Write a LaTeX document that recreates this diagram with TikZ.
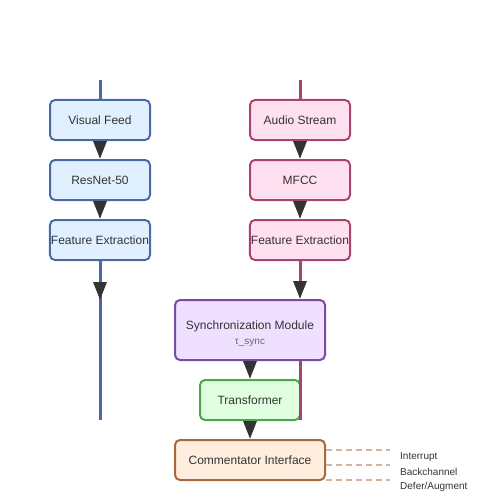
\documentclass[tikz,border=0pt]{standalone}
\usepackage{fontspec}
\setmainfont{Liberation Sans}
\usetikzlibrary{positioning, arrows.meta}

\definecolor{visline}{HTML}{4A6AA5}
\definecolor{visfill}{HTML}{E0F0FF}
\definecolor{audline}{HTML}{A8456E}
\definecolor{audfill}{HTML}{FFE0F0}
\definecolor{synline}{HTML}{7B4BAA}
\definecolor{synfill}{HTML}{F0E0FF}
\definecolor{trline}{HTML}{4AA84A}
\definecolor{trfill}{HTML}{E0FFE0}
\definecolor{ciline}{HTML}{A8683E}
\definecolor{cifill}{HTML}{FFEEDD}
\definecolor{dashcol}{HTML}{D4B4A0}
\definecolor{tipgray}{HTML}{333333}
\definecolor{txtgray}{HTML}{333333}
\definecolor{subgray}{HTML}{666666}

\begin{document}
\begin{tikzpicture}[x=1pt, y=-1pt,
		box/.style={draw, rounded corners=5pt, line width=2pt, minimum width=100pt, minimum height=40pt,
			inner sep=1pt, text=txtgray, font=\fontsize{12}{14}\selectfont},
		arr/.style={-{Triangle[length=18pt, width=13pt, color=tipgray]}},
		flow/.style={line width=3pt},
		opt/.style={dashcol, line width=1.5pt, dash pattern=on 6pt off 4pt},
		optlabel/.style={anchor=west, inner sep=0pt, text=txtgray, font=\fontsize{10}{12}\selectfont}]
		\useasboundingbox (0,0) rectangle (500,500);

		% Visual branch
		\node[box, draw=visline, fill=visfill] (vf) at (100,120) {Visual Feed};
		\node[box, draw=visline, fill=visfill] (rn) at (100,180) {ResNet-50};
		\node[box, draw=visline, fill=visfill] (fv) at (100,240) {Feature Extraction};
		\coordinate (vtop) at (100,80);
		\coordinate (vtip) at (100,300);
		\coordinate (vend) at (100,420);

		% Audio branch
		\node[box, draw=audline, fill=audfill] (as) at (300,120) {Audio Stream};
		\node[box, draw=audline, fill=audfill] (mf) at (300,180) {MFCC};
		\node[box, draw=audline, fill=audfill] (fa) at (300,240) {Feature Extraction};
		\coordinate (atop) at (300,80);
		\coordinate (aend) at (300,420);

		% Fusion and output
		\node[box, draw=synline, fill=synfill, minimum width=150pt, minimum height=60pt, align=center] (sync) at (250,330)
			{\rule{0pt}{17pt}Synchronization Module\\[1pt]{\fontsize{10}{12}\selectfont\color{subgray}τ\_sync}};
		\node[box, draw=trline, fill=trfill] (tr) at (250,400) {Transformer};
		\node[box, draw=ciline, fill=cifill, minimum width=150pt] (ci) at (250,460) {Commentator Interface};

		% Visual connectors
		\draw[flow, visline] (vtop) -- (vf);
		\draw[flow, visline, arr] (vf) -- (rn);
		\draw[flow, visline, arr] (rn) -- (fv);
		\draw[flow, visline] (fv) -- (vend);
		\draw[flow, visline, arr] (fv) -- (vtip);

		% Audio connectors
		\draw[flow, audline] (atop) -- (as);
		\draw[flow, audline, arr] (as) -- (mf);
		\draw[flow, audline, arr] (mf) -- (fa);
		\draw[flow, audline, arr] (fa.south) -- (fa.south |- sync.north);
		\draw[flow, audline] (sync.south -| aend) -- (aend);

		% Fusion connectors
		\draw[flow, trline, arr] (sync) -- (tr);
		\draw[flow, ciline, arr] (tr) -- (ci);

		% Interaction options
		\coordinate (d1) at (390,450);
		\coordinate (d2) at (390,465);
		\coordinate (d3) at (390,480);
		\draw[opt] (ci.east |- d1) -- (d1);
		\draw[opt] (ci.east |- d2) -- (d2);
		\draw[opt] (ci.east |- d3) -- (d3);
		\node[optlabel] (o1) at (400,457) {Interrupt};
		\node[optlabel] (o2) at (400,472) {Backchannel};
		\node[optlabel] (o3) at (400,487) {Defer/Augment};
	\end{tikzpicture}
\end{document}
